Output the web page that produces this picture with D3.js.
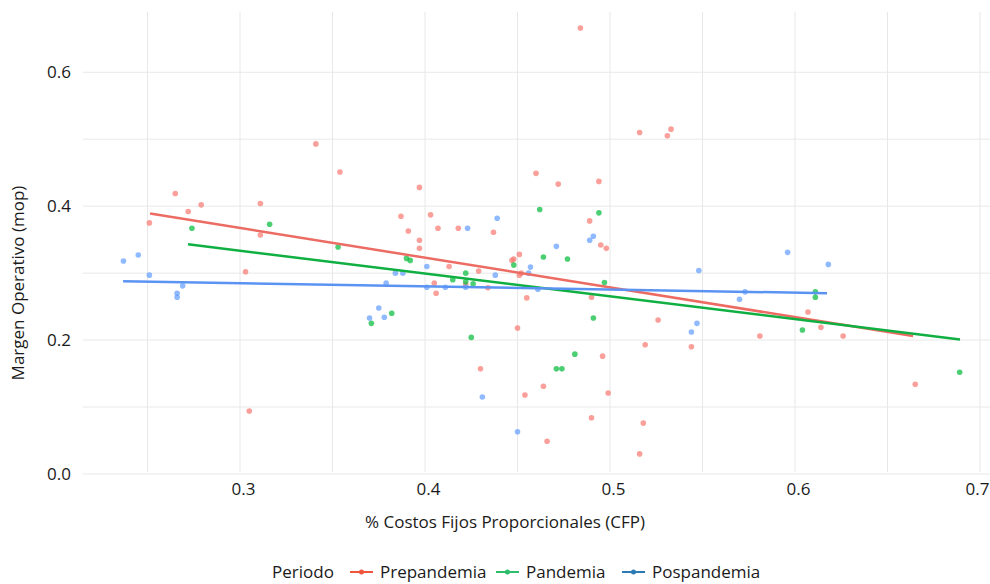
<!DOCTYPE html>
<html>
<head>
<meta charset="utf-8">
<script src="https://cdn.jsdelivr.net/npm/d3@7"></script>
<style>
	body { margin: 0; background: #fff; }
	text { font-family: "Open Sans", "Noto Sans", sans-serif; fill: #1a1a1a; }
	.grid line { stroke: #e8e8e8; stroke-width: 1; }
	.axis path, .axis line { display: none; }
</style>
</head>
<body>
<div id="chart"></div>
<script>
//Data
var periods = ["Prepandemia", "Pandemia", "Pospandemia"];

var preX = [0.484, 0.341, 0.354, 0.265, 0.272, 0.279, 0.311, 0.251, 0.311, 0.397, 0.387, 0.403, 0.391, 0.407, 0.418, 0.437, 0.397, 0.397,
	0.516, 0.533, 0.531, 0.460, 0.472, 0.494, 0.489, 0.495, 0.498, 0.303, 0.305, 0.413, 0.405, 0.406, 0.429, 0.448, 0.451, 0.434,
	0.430, 0.450, 0.447, 0.452, 0.455, 0.490, 0.496, 0.464, 0.454, 0.499, 0.490, 0.466, 0.518, 0.516, 0.526, 0.519, 0.544,
	0.607, 0.614, 0.581, 0.626, 0.665, 0.451, 0.422];
var preY = [0.666, 0.493, 0.451, 0.419, 0.392, 0.402, 0.404, 0.375, 0.357, 0.428, 0.385, 0.387, 0.363, 0.367, 0.367, 0.361, 0.349, 0.337,
	0.510, 0.515, 0.505, 0.449, 0.433, 0.437, 0.378, 0.342, 0.337, 0.302, 0.094, 0.310, 0.285, 0.270, 0.303, 0.321, 0.328, 0.278,
	0.157, 0.218, 0.319, 0.300, 0.263, 0.264, 0.176, 0.131, 0.118, 0.121, 0.084, 0.049, 0.076, 0.030, 0.230, 0.193, 0.190,
	0.242, 0.219, 0.206, 0.206, 0.134, 0.297, 0.283];

var panX = [0.274, 0.316, 0.353, 0.392, 0.390, 0.415, 0.422, 0.448, 0.426, 0.371, 0.382, 0.425, 0.462, 0.494, 0.464, 0.477,
	0.497, 0.491, 0.481, 0.471, 0.474, 0.611, 0.611, 0.604, 0.689, 0.422];
var panY = [0.367, 0.373, 0.339, 0.319, 0.322, 0.290, 0.300, 0.312, 0.284, 0.225, 0.240, 0.204, 0.395, 0.390, 0.324, 0.321,
	0.286, 0.233, 0.179, 0.157, 0.157, 0.272, 0.264, 0.215, 0.152, 0.287];

var posX = [0.237, 0.245, 0.251, 0.269, 0.266, 0.266, 0.423, 0.439, 0.491, 0.489, 0.471, 0.384, 0.388, 0.401, 0.379, 0.401,
	0.411, 0.438, 0.422, 0.375, 0.370, 0.378, 0.431, 0.450, 0.457, 0.456, 0.461, 0.548, 0.547, 0.544, 0.570, 0.596, 0.618, 0.573];
var posY = [0.318, 0.327, 0.297, 0.281, 0.270, 0.264, 0.367, 0.382, 0.355, 0.349, 0.340, 0.300, 0.300, 0.310, 0.285, 0.279,
	0.279, 0.297, 0.279, 0.248, 0.233, 0.234, 0.115, 0.063, 0.309, 0.300, 0.276, 0.304, 0.225, 0.212, 0.261, 0.331, 0.313, 0.272];

//Fitted lines (start and end)
var fitX = [[0.2514, 0.6638], [0.2719, 0.6892], [0.2368, 0.6173]];
var fitY = [[0.389, 0.206], [0.343, 0.201], [0.288, 0.270]];

var xTicks = [0.3, 0.4, 0.5, 0.6, 0.7];
var yTicks = [0.0, 0.2, 0.4, 0.6];
var xMinor = [0.25, 0.35, 0.45, 0.55, 0.65];
var yMinor = [0.1, 0.3, 0.5];

var render = function() {
	var width = 990;
	var height = 584;
	var plot = { left: 75, right: 990, top: 12, bottom: 476 };

	var pointColors = ["#F8766D", "#00BA38", "#619CFF"];
	var lineColors = ["#EC6B63", "#0FAF42", "#5B93F2"];
	var legendColors = ["#EF553B", "#2DBE6C", "#2C7BB6"];

	var svg = d3.select("#chart")
		.append("svg")
		.attr("width", width)
		.attr("height", height);

	//Scales
	var x = d3.scaleLinear()
		.domain([0.2108, 0.7054])
		.range([plot.left, plot.right]);

	var y = d3.scaleLinear()
		.domain([-0.003, 0.69])
		.range([plot.bottom, plot.top]);

	//Grid
	var grid = svg.append("g").attr("class", "grid");
	grid.selectAll(".vx")
		.data(xTicks.concat(xMinor))
		.enter()
		.append("line")
		.attr("x1", function(d) { return x(d); })
		.attr("x2", function(d) { return x(d); })
		.attr("y1", plot.top)
		.attr("y2", plot.bottom - 4);
	grid.selectAll(".hy")
		.data(yTicks.concat(yMinor))
		.enter()
		.append("line")
		.attr("x1", plot.left + 8)
		.attr("x2", plot.right)
		.attr("y1", function(d) { return y(d); })
		.attr("y2", function(d) { return y(d); });

	//Axes
	var xAxis = svg.append("g")
		.attr("class", "x axis")
		.attr("transform", "translate(3," + (plot.bottom + 1) + ")")
		.call(d3.axisBottom(x).tickValues(xTicks).tickFormat(d3.format(".1f")).tickSize(0).tickPadding(6));
	xAxis.selectAll("text")
		.style("font-size", "17px");
	//last label sits at the right edge, keep it inside the page
	xAxis.selectAll(".tick:last-of-type text")
		.attr("text-anchor", "end")
		.attr("x", plot.right - 3 - x(0.7) - 1);

	svg.append("g")
		.attr("class", "y axis")
		.attr("transform", "translate(" + (plot.left - 1) + ",0)")
		.call(d3.axisLeft(y).tickValues(yTicks).tickFormat(d3.format(".1f")).tickSize(0).tickPadding(3))
		.selectAll("text")
		.style("font-size", "17px");

	//Axis titles
	svg.append("text")
		.attr("x", 505)
		.attr("y", 528)
		.attr("text-anchor", "middle")
		.style("font-size", "17px")
		.text("% Costos Fijos Proporcionales (CFP)");

	svg.append("text")
		.attr("transform", "translate(24,283) rotate(-90)")
		.attr("text-anchor", "middle")
		.style("font-size", "17px")
		.text("Margen Operativo (mop)");

	//Series
	var series = [
		{ xs: preX, ys: preY },
		{ xs: panX, ys: panY },
		{ xs: posX, ys: posY }
	];

	var line = d3.line()
		.x(function(d) { return x(d[0]); })
		.y(function(d) { return y(d[1]); });

	series.forEach(function(s, i) {
		var pts = s.xs.map(function(v, j) { return [v, s.ys[j]]; });
		svg.append("g")
			.selectAll("circle")
			.data(pts)
			.enter()
			.append("circle")
			.attr("cx", function(d) { return x(d[0]); })
			.attr("cy", function(d) { return y(d[1]); })
			.attr("r", 2.8)
			.attr("fill", pointColors[i])
			.attr("fill-opacity", 0.7);
	});

	series.forEach(function(s, i) {
		var ends = fitX[i].map(function(v, j) { return [v, fitY[i][j]]; });
		svg.append("path")
			.datum(ends)
			.attr("d", line)
			.attr("fill", "none")
			.attr("stroke", lineColors[i])
			.attr("stroke-width", 2.5);
	});

	//Legend
	var legend = svg.append("g")
		.attr("transform", "translate(0,572)");

	legend.append("text")
		.attr("x", 272)
		.attr("dy", "0.35em")
		.style("font-size", "17px")
		.text("Periodo");

	var legendX = [350, 496, 622];
	periods.forEach(function(p, i) {
		var g = legend.append("g").attr("transform", "translate(" + legendX[i] + ",0)");
		g.append("line")
			.attr("x1", 0)
			.attr("x2", 23)
			.attr("stroke", legendColors[i])
			.attr("stroke-width", 2);
		g.append("circle")
			.attr("cx", 11.5)
			.attr("r", 2.5)
			.attr("fill", legendColors[i]);
		g.append("text")
			.attr("x", 30)
			.attr("dy", "0.35em")
			.style("font-size", "17px")
			.text(p);
	});
};

render();
</script>
</body>
</html>
